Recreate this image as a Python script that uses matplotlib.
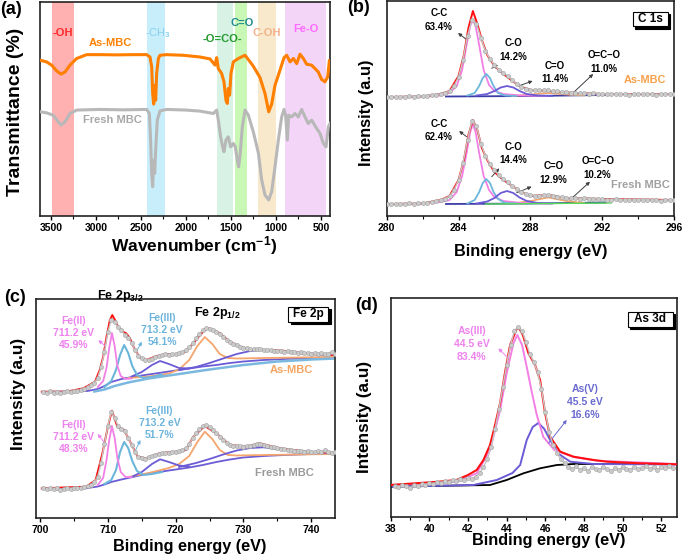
import numpy as np
import matplotlib
matplotlib.use('Agg')
import matplotlib.pyplot as plt
from matplotlib.ticker import MultipleLocator
from matplotlib.patches import Rectangle
from matplotlib.transforms import offset_copy

plt.rcParams['font.family'] = ['Liberation Sans', 'DejaVu Sans']
plt.rcParams['font.weight'] = 'bold'
plt.rcParams['axes.labelweight'] = 'bold'
plt.rcParams['mathtext.fontset'] = 'custom'
plt.rcParams['mathtext.rm'] = 'Liberation Sans:bold'
plt.rcParams['mathtext.it'] = 'Liberation Sans:bold'
plt.rcParams['mathtext.bf'] = 'Liberation Sans:bold'
plt.rcParams['mathtext.default'] = 'rm'

# ---------------- (a) FT-IR ----------------
ftir_wn_as = [3620, 3548, 3493, 3437, 3389, 3344, 3289, 3215, 3104, 2956, 2770, 2585, 2437, 2400,
              2381, 2370, 2359, 2348, 2337, 2326, 2307, 2289, 2215, 2030, 1844, 1733, 1678, 1659,
              1641, 1604, 1578, 1556, 1541, 1530, 1515, 1500, 1474, 1437, 1400, 1344, 1307, 1252,
              1178, 1122, 1081, 1048, 1011, 956, 911, 881, 844, 807, 770, 733, 696, 659, 604, 567,
              530, 493, 456, 426, 407]
ftir_t_as = [72.8, 72.0, 70.5, 67.8, 66.3, 67.3, 70.5, 73.6, 75.4, 75.4, 75.3, 75.4, 75.4, 74.3,
             69.7, 57.2, 52.3, 61.1, 54.1, 66.6, 73.6, 75.1, 75.4, 75.1, 74.3, 73.4, 70.5, 74.0,
             68.9, 66.6, 62.7, 54.1, 52.6, 59.6, 56.5, 66.6, 72.0, 73.1, 74.0, 75.1, 73.1, 70.0,
             64.7, 57.2, 48.7, 52.3, 61.1, 68.1, 74.0, 75.1, 72.0, 73.6, 71.2, 75.6, 73.6, 70.9,
             70.5, 68.9, 67.3, 63.8, 62.7, 65.0, 72.5]
ftir_wn_fresh = [3620, 3548, 3474, 3419, 3389, 3344, 3289, 3215, 2956, 2700, 2437, 2407, 2393, 2381,
                 2370, 2359, 2348, 2337, 2319, 2289, 2215, 2000, 1844, 1696, 1659, 1641, 1615, 1593,
                 1578, 1556, 1530, 1504, 1474, 1452, 1430, 1415, 1400, 1374, 1344, 1307, 1252, 1196,
                 1159, 1122, 1081, 1048, 1011, 974, 937, 911, 893, 874, 859, 826, 789, 752, 715, 678,
                 641, 604, 548, 511, 474, 444, 419, 400]
ftir_t_fresh = [48.7, 48.2, 47.1, 44.0, 42.5, 44.0, 47.9, 49.5, 49.8, 49.6, 49.8, 47.9, 35.5, 19.9,
                13.7, 26.1, 19.9, 30.8, 44.8, 49.1, 49.8, 49.5, 49.0, 47.9, 49.5, 44.8, 37.0, 32.3,
                30.0, 35.5, 37.0, 32.3, 33.9, 32.3, 26.1, 23.0, 28.0, 41.7, 49.5, 47.1, 39.3, 29.5,
                16.8, 9.8, 7.5, 11.4, 23.0, 35.5, 46.3, 49.8, 47.1, 35.5, 47.1, 46.3, 47.9, 46.3,
                49.8, 46.3, 43.2, 44.8, 40.9, 38.6, 33.9, 32.3, 41.7, 43.2]
band_labels = ['-OH', '-CH$_3$', '-O=CO-', 'C=O', 'C-OH', 'Fe-O']
band_lo = [3240, 2230, 1480, 1325, 995, 440]
band_hi = [3490, 2430, 1660, 1460, 1205, 900]

# ---------------- (b) C 1s ----------------
c1s_be = np.linspace(280, 296, 65)
c1s_as_raw = [119, 119, 119.5, 119, 119.5, 120, 119.5, 120, 120, 120.5, 121, 121.5, 122, 123, 125,
              130, 139, 156, 180, 196, 192, 178, 165, 157, 151, 146, 143, 140, 136, 132, 129, 127,
              126, 126.5, 126, 126.5, 126, 125, 125, 124, 124, 123.5, 123, 123.5, 123, 122.5, 123,
              122.5, 122, 122.5, 122, 122, 122.5, 122, 121.5, 122, 122, 122.5, 122, 122, 121.5,
              122, 122, 122, 122]
c1s_fresh_raw = [12, 12, 12.5, 12, 12.5, 13, 12.5, 13, 13, 13.5, 14, 15, 16, 17.5, 20, 26, 36, 53,
                 76, 95, 90, 72, 60, 52, 46, 41, 37, 34, 30, 27, 24, 22, 21, 20.5, 20, 21, 21, 20,
                 19.5, 19, 18.5, 18, 18, 17.5, 18, 17.5, 17, 17.5, 17, 16.5, 16.5, 17, 16.5, 16,
                 16.5, 16, 16, 16.5, 16, 16, 16, 15.5, 16, 16, 16]
c1s_fit_be = [280, 282, 283, 283.5, 284.0, 284.3, 284.55, 284.8, 285.05, 285.3, 285.6, 286.0,
              286.5, 287.0, 287.5, 288, 289, 290, 292, 296]
c1s_as_fit = [119, 119.5, 122, 125, 140, 161, 188, 205, 192, 176, 161, 150, 142, 135, 129, 126,
              125, 123.5, 122, 122]
c1s_fresh_fit = [12, 12.5, 16, 20, 36, 56, 81, 96, 86, 68, 56, 44, 36, 30, 24, 20, 21, 18, 17, 16]
cc_be = [282, 283, 283.5, 283.9, 284.2, 284.45, 284.65, 284.8, 284.95, 285.15, 285.4, 285.7,
         286.0, 286.5, 287.5, 289]
cc_as = [119.5, 120.5, 123, 130, 146, 171, 190, 196, 190, 171, 146, 131, 125, 122, 120.5, 120]
cc_fresh = [12.5, 14, 16, 24, 40, 63, 84, 92, 84, 63, 40, 26, 19, 15, 13, 12.5]
co_be = [284.5, 284.9, 285.15, 285.35, 285.55, 285.75, 285.95, 286.2, 286.6, 287.2]
co_as = [120.5, 123, 130, 138, 142, 138, 130, 123, 120.5, 120]
co_fresh = [12.5, 16, 24, 33, 37, 33, 24, 17, 13, 12.5]
cdo_be = [285.0, 285.6, 286.0, 286.35, 286.7, 287.05, 287.4, 287.8, 288.4, 289.2]
cdo_as = [120.5, 122, 125, 128.5, 130, 128.5, 125, 122, 120.5, 120]
cdo_fresh = [12.5, 14.5, 18, 23, 25, 23, 18.5, 15, 13, 12.5]
oco_be = [287, 288, 289, 290, 291]
oco_as = [120, 121.5, 123, 121.5, 120.5]
oco_fresh = [12.5, 15, 18.5, 15, 13]
c1s_bg_be = [283.3, 288, 292.2]
c1s_bg_as = [119.5, 120, 121]
c1s_bg_fresh = [12, 12.5, 13.5]

# ---------------- (c) Fe 2p ----------------
fe_be = np.linspace(700.5, 743.5, 87)
fe_as_raw = [126, 125, 127, 125.5, 126.5, 125, 126, 127, 126, 127, 127.5, 128, 129.5, 131, 133,
             135.5, 140, 151, 166, 186, 198, 196, 191, 188, 183, 180, 175, 168, 162, 160, 158, 158,
             159, 161, 162.5, 163, 164, 163.5, 164, 164.5, 165, 166, 168, 171, 175, 180, 184, 188,
             190, 189, 188, 186, 184, 181, 178, 176, 174.5, 173, 171.5, 170.5, 170, 169.5, 169,
             169.5, 169, 168.5, 168, 168.5, 167.5, 167, 167.5, 166.5, 167, 166, 166.5, 165.5, 166,
             165, 165.5, 164.5, 165, 164, 165, 164, 164.5, 166, 164]
fe_fresh_raw = [30, 29, 30.5, 29, 30, 28.5, 29.5, 30, 29, 30, 30.5, 30, 31, 32, 33.5, 36, 41, 55,
                74, 92, 106, 100, 92, 89, 87, 80, 73, 66, 61, 60, 59.5, 61, 62, 63.5, 64.5, 65,
                65.5, 65, 66, 66.5, 67, 68, 70, 74, 80, 85, 89, 92, 93, 91, 88, 85, 81, 78, 75,
                73.5, 72.5, 72, 72, 71.5, 72, 72.5, 73, 74, 74.5, 73.5, 72.5, 71.5, 71, 70, 69.5,
                69, 68, 68.5, 67.5, 67, 67, 66.5, 67, 66, 66.5, 67, 66, 68, 66.5, 65.5, 66]
fe_as_fit_be = [700.25, 703.9, 706.4, 708.1, 708.8, 709.3, 709.8, 710.3, 710.65, 711.05, 711.5,
                712.3, 712.7, 713.25, 714.0, 714.7, 715.7, 717.2, 718.7, 720.1, 721.4, 722.6,
                723.6, 724.3, 724.8, 725.5, 726.5, 728.0, 729.5, 731.4, 733.4, 735.8, 738.3,
                740.7, 743.5]
fe_as_fit = [126.3, 126.3, 129.7, 136.3, 148, 161, 181, 198, 203, 198, 191, 186, 184.7, 179.7,
             168, 160.7, 158, 162, 164, 164, 166.3, 174.7, 183, 188, 189.7, 188, 184.7, 176.3,
             171.3, 168, 168, 167.3, 165.3, 164, 163]
fe_fresh_fit_be = [700.25, 706.8, 708.2, 709.2, 710.0, 710.6, 711.4, 712.4, 713.4, 714.4, 715.6,
                   717.6, 720.0, 721.5, 722.6, 724.3, 726.0, 728.0, 730.4, 732.4, 735.3, 739.3,
                   743.5]
fe_fresh_fit = [29.7, 31.3, 38, 64.7, 91.3, 107.3, 91.3, 88, 74.7, 61.3, 59.7, 64.7, 66.3, 68,
                81.3, 92, 84.7, 73, 71.3, 74.7, 69.7, 66.3, 65.3]
fe2_be = [708.5, 709.3, 709.8, 710.2, 710.6, 711.0, 711.4, 711.9, 712.6, 713.5]
fe2_as = [131, 137, 150, 170, 185, 172, 152, 142, 139, 139.5]
fe2_fresh = [33, 40, 58, 78, 92, 80, 60, 46, 41, 41]
fe3_be = [709.5, 710.5, 711.2, 711.8, 712.4, 713.0, 713.6, 714.3, 715.2, 716.5, 718]
fe3_as = [131, 137, 148, 163, 173, 165, 152, 143, 140, 141, 143.5]
fe3_fresh = [34, 38, 48, 66, 76, 70, 57, 47, 43, 44, 46]
sat1_be = [713.5, 715, 716.5, 717.7, 719, 720.5, 722]
sat1_as = [141.5, 146, 153, 157, 154, 150, 149.5]
sat1_fresh = [41, 46, 54, 58.7, 56, 52.5, 51.5]
sat2_be = [720.5, 723, 725, 727, 729, 731, 732.9, 735, 738, 741, 743.5]
sat2_as = [148, 151, 155, 159.5, 164, 167, 168, 167, 165, 163.5, 163]
sat2_fresh = [51, 55, 59, 63.5, 67.5, 70, 70.7, 69, 67, 65.5, 65]
fe12_be = [713, 716, 719, 720.5, 722, 723.2, 724.3, 725.4, 726.5, 727.7, 729, 733, 738, 743.5]
fe12_as = [140, 141.5, 144.5, 148.5, 158, 172, 181, 174, 164, 160, 159.5, 160, 160.5, 161]
fe12_fresh = [41, 45, 50, 54, 62, 76, 86.3, 79, 68, 63, 62.5, 63, 63.5, 64]
fe_bg_be = [700.3, 707, 708.5, 709.5, 710.5, 712, 714, 716, 718, 720, 722, 724, 726, 728, 730,
            733, 736, 740, 743.5]
fe_bg_as = [126, 127, 129, 132, 136, 139, 141.5, 143.5, 145.5, 147.5, 149.5, 151.5, 153, 155,
            156.5, 158, 159, 160, 160.5]
fe_bg_fresh = [29.5, 30, 31.5, 33.5, 36, 38.5, 41.5, 44.5, 46.5, 48.5, 50.5, 53, 56, 58.5, 60.5,
               62, 63, 64, 64.5]
fe_bg2_be = [708, 709.5, 711, 713, 716, 720, 725, 730, 735, 740, 743.5]
fe_bg2_as = [126.5, 128.5, 132, 135.5, 139.5, 143.5, 148.5, 153, 156.5, 158.5, 159.5]

# ---------------- (d) As 3d ----------------
as_be = np.linspace(38.2, 52.6, 73)
as_raw = [31, 30, 32, 31, 29, 32, 31, 33, 32, 34, 33, 35, 34, 36, 35, 37, 36, 38, 37, 39, 38, 40,
          44, 50, 58, 70, 88, 108, 130, 152, 172, 186, 190, 186, 175, 163, 155, 145, 128, 105, 85,
          72, 64, 58, 54, 50, 48, 51, 47, 49, 46, 50, 48, 47, 50, 48, 46, 49, 47, 50, 48, 47, 50,
          48, 49, 51, 48, 50, 47, 50, 49, 51, 49]
as_fit_be = [38.0, 40.5, 41.4, 42.0, 42.45, 42.8, 43.14, 43.4, 43.66, 43.92, 44.18, 44.35, 44.5,
             44.65, 44.84, 45.13, 45.47, 45.73, 45.99, 46.25, 46.77, 47.46, 48.5, 49.2, 50.9, 52.8]
as_fit = [32, 35.3, 37, 42, 47, 57, 72, 92, 113.7, 145, 172, 180, 187.5, 188.7, 182, 163.7, 152,
          137, 103.7, 80.3, 65.3, 60.3, 57, 55.3, 53.7, 52.7]
as3_be = [38.0, 41.42, 42.45, 43.14, 43.66, 44.0, 44.35, 44.55, 44.8, 45.04, 45.3, 45.56, 45.9,
          46.47, 47.46, 48.67, 52.8]
as3 = [32, 35.3, 43.7, 67, 107, 143.7, 173.7, 182, 172, 150, 125, 102, 80, 67, 60, 56.3, 53]
as5_be = [38.0, 42.28, 43.49, 44.3, 44.7, 45.04, 45.35, 45.64, 45.95, 46.25, 46.7, 47.29, 48.5,
          52.8]
as5 = [30.3, 32, 37, 44, 52, 77, 90, 94, 88, 77, 63, 55.3, 53, 52.5]
as_bg_be = [38.0, 43.14, 44.0, 44.87, 45.73, 46.6, 47.46, 52.8]
as_bg = [30.3, 32, 37, 43.7, 48.7, 52, 53, 53]

PINK = '#f27fe6'
CYAN = '#6cb6dc'
PURPLE = '#6b5bd6'
ORANGE = '#f5a56e'
RED = '#ff1010'
NAVY = '#3c3ca8'


def style(ax, xlim, ylim, major, minor):
    ax.set_xlim(*xlim)
    ax.set_ylim(*ylim)
    ax.xaxis.set_major_locator(MultipleLocator(major))
    ax.xaxis.set_minor_locator(MultipleLocator(minor))
    ax.set_yticks([])
    ax.tick_params(axis='x', which='major', direction='out', length=3, width=1,
                   labelsize=7.5, pad=2)
    ax.tick_params(axis='x', which='minor', direction='out', length=1.8, width=0.8)
    for s in ax.spines.values():
        s.set_linewidth(1.2)
        s.set_color('#222222')


def raw(ax, x, y):
    ax.plot(x, y, color='#c6c6c6', lw=1.0, marker='o', ms=3, mfc='#cbcbcb', mec='#a2a2a2',
            mew=0.4, zorder=4)


def arrow(ax, head, tail, color):
    ax.annotate('', xy=head, xytext=tail,
                arrowprops=dict(arrowstyle='-|>', color=color, lw=0.7, mutation_scale=5,
                                shrinkA=0, shrinkB=0))


def box_label(ax, cx, cy, w, h, text):
    # boxed label with a drop shadow to the lower right
    shadow = offset_copy(ax.transAxes, fig=ax.figure, x=2.5, y=-2.5, units='dots')
    ax.add_patch(Rectangle((cx - w / 2, cy - h / 2), w, h, transform=shadow,
                           fc='black', ec='black', lw=0.8, zorder=6))
    ax.add_patch(Rectangle((cx - w / 2, cy - h / 2), w, h, transform=ax.transAxes,
                           fc='white', ec='black', lw=0.8, zorder=7))
    ax.text(cx, cy, text, transform=ax.transAxes, ha='center', va='center', fontsize=8.5,
            zorder=8)


fig = plt.figure(figsize=(6.85, 5.6), dpi=100)


def px_axes(l, t, r, b):
    return fig.add_axes([l / 685, 1 - b / 560, (r - l) / 685, (b - t) / 560])


ax_a = px_axes(40, 2, 330, 216)
ax_b = px_axes(386.7, 1, 674, 216)
ax_c = px_axes(36, 299, 335, 518)
ax_d = px_axes(390.7, 298, 676.7, 517)

# ---- (a)
band_colors = ['#ffb0b0', '#c9eefb', '#d8f3e6', '#c9f7b5', '#f8e9cc', '#f3d5f8']
band_text = ['#ff2a2a', '#86d0ee', '#22992a', '#1e8b8b', '#f4b28a', '#ff6bff']
band_pos = [(3363, 85.7), (2307, 85.7), (1593, 82.9), (1381, 90.2), (1104, 85.7), (667, 87.2)]
for lab, lo, hi, fc, tc, pos in zip(band_labels, band_lo, band_hi, band_colors, band_text, band_pos):
    ax_a.axvspan(lo, hi, color=fc, lw=0, zorder=0)
    ax_a.text(pos[0], pos[1], lab, color=tc, ha='center', va='center', fontsize=8,
              fontweight='normal' if 'CH' in lab else 'bold')
ax_a.plot(ftir_wn_as, ftir_t_as, color='#ff7f00', lw=2.2, zorder=3)
ax_a.plot(ftir_wn_fresh, ftir_t_fresh, color='#b8b8b8', lw=2.2, zorder=3)
ax_a.text(2844, 80.9, 'As-MBC', color='#ff8000', ha='center', va='center', fontsize=8)
ax_a.text(2815, 44.8, 'Fresh MBC', color='#a8a8a8', ha='center', va='center', fontsize=8)
style(ax_a, (3622, 400), (0, 100), 500, 250)
ax_a.set_xlabel('Wavenumber (cm$^{-1}$)', fontsize=12.5, va='center')
ax_a.xaxis.set_label_coords(0.53, -0.14)
ax_a.set_ylabel('Transmittance (%)', fontsize=14, va='center')
ax_a.yaxis.set_label_coords(-0.086, 0.486)

# ---- (b)
for raw_y, fit_y, cc, co, cdo, oco, bg in [
        (c1s_as_raw, c1s_as_fit, cc_as, co_as, cdo_as, oco_as, c1s_bg_as),
        (c1s_fresh_raw, c1s_fresh_fit, cc_fresh, co_fresh, cdo_fresh, oco_fresh, c1s_bg_fresh)]:
    ax_b.plot(c1s_bg_be, bg, color=NAVY, lw=1.3, zorder=2)
    ax_b.plot(oco_be, oco, color=ORANGE, lw=1.2, zorder=2)
    ax_b.plot(cc_be, cc, color=PINK, lw=1.3, zorder=2)
    ax_b.plot(co_be, co, color=CYAN, lw=1.3, zorder=2)
    ax_b.plot(cdo_be, cdo, color=PURPLE, lw=1.3, zorder=2)
    ax_b.plot(c1s_fit_be, fit_y, color=RED, lw=1.4, zorder=3)
    raw(ax_b, c1s_be, raw_y)
ax_b.plot([285.5, 292.5], [12, 13], color='#55dd55', lw=1.0, zorder=2)

for txt, pos in [('C-C\n63.4%', (282.9, 196)), ('C-O\n14.2%', (287.07, 165.7)),
                 ('C=O\n11.4%', (289.37, 143.5)), ('O=C–O\n11.0%', (292.1, 153.8)),
                 ('C-C\n62.4%', (282.9, 85.3)), ('C-O\n14.4%', (287.07, 62.7)),
                 ('C=O\n12.9%', (289.28, 43.2)), ('O=C–O\n10.2%', (291.75, 47.7))]:
    ax_b.text(pos[0], pos[1], txt, ha='center', va='center', fontsize=7, linespacing=1.45,
              zorder=6)
for head, tail in [((283.97, 183), (284.41, 177)), ((286.2, 151), (285.85, 147.7)),
                   ((288.13, 135), (287.33, 130)), ((291.5, 142), (290.39, 123.3)),
                   ((284.03, 85), (284.45, 79.3)), ((286.27, 47.7), (285.85, 39.3)),
                   ((288.07, 29.3), (287.24, 23.3)), ((291.32, 34.3), (290.2, 16))]:
    arrow(ax_b, head, tail, '#404040')
ax_b.text(294.38, 136, 'As-MBC', color='#f7a04a', ha='center', va='center', fontsize=7.8, zorder=6)
ax_b.text(294.1, 31, 'Fresh MBC', color='#a0a0a0', ha='center', va='center', fontsize=8, zorder=6)
box_label(ax_b, 0.918, 0.916, 0.122, 0.0665, 'C 1s')
style(ax_b, (280, 296), (0, 215), 4, 2)
ax_b.set_xlabel('Binding energy (eV)', fontsize=11.7, va='center')
ax_b.xaxis.set_label_coords(0.501, -0.167)
ax_b.set_ylabel('Intensity (a.u)', fontsize=11.8, va='center')
ax_b.yaxis.set_label_coords(-0.07, 0.479)

# ---- (c)
for raw_y, fit_be, fit_y, f2, f3, s1, s2, f12, bg in [
        (fe_as_raw, fe_as_fit_be, fe_as_fit, fe2_as, fe3_as, sat1_as, sat2_as, fe12_as, fe_bg_as),
        (fe_fresh_raw, fe_fresh_fit_be, fe_fresh_fit, fe2_fresh, fe3_fresh, sat1_fresh,
         sat2_fresh, fe12_fresh, fe_bg_fresh)]:
    ax_c.plot(fe_bg_be, bg, color=PURPLE, lw=1.3, zorder=2)
    ax_c.plot(fe12_be, f12, color=ORANGE, lw=1.3, zorder=2)
    ax_c.plot(sat1_be, s1, color=PURPLE, lw=1.3, zorder=2)
    ax_c.plot(sat2_be, s2, color=PURPLE, lw=1.3, zorder=2)
    ax_c.plot(fe3_be, f3, color=CYAN, lw=1.5, zorder=2)
    ax_c.plot(fe2_be, f2, color=PINK, lw=1.3, zorder=2)
    ax_c.plot(fit_be, fit_y, color=RED, lw=1.4, zorder=3)
    raw(ax_c, fe_be, raw_y)
ax_c.plot(fe_bg2_be, fe_bg2_as, color='#7ab8e0', lw=1.8, zorder=2)

ax_c.text(704.9, 184.7, 'Fe(II)\n711.2 eV\n45.9%', color='#ee82ee', ha='center', va='center',
          fontsize=7.5, linespacing=1.25, zorder=6)
ax_c.text(718.0, 188.2, 'Fe(III)\n713.2 eV\n54.1%', color='#6cb4dc', ha='center', va='center',
          fontsize=7.5, linespacing=1.25, zorder=6)
ax_c.text(704.9, 80.7, 'Fe(II)\n711.2 eV\n48.3%', color='#ee82ee', ha='center', va='center',
          fontsize=7.5, linespacing=1.25, zorder=6)
ax_c.text(717.6, 95.3, 'Fe(III)\n713.2 eV\n51.7%', color='#6cb4dc', ha='center', va='center',
          fontsize=7.5, linespacing=1.25, zorder=6)
ax_c.text(711.8, 222, 'Fe 2p$_{3/2}$', ha='center', va='center', fontsize=9, clip_on=False,
          zorder=6)
ax_c.text(726.1, 204.7, 'Fe 2p$_{1/2}$', ha='center', va='center', fontsize=9, zorder=6)
ax_c.text(737.1, 148, 'As-MBC', color='#f4a460', ha='center', va='center', fontsize=8, zorder=6)
ax_c.text(736.1, 45.3, 'Fresh MBC', color='#9a9a9a', ha='center', va='center', fontsize=8,
          zorder=6)
arrow(ax_c, (708.6, 178), (709.7, 171.3), '#ee82ee')
arrow(ax_c, (715.0, 176.3), (714.2, 166.3), '#6cb4dc')
arrow(ax_c, (708.5, 84), (709.6, 74.7), '#ee82ee')
arrow(ax_c, (714.8, 78), (714.1, 68), '#6cb4dc')
box_label(ax_c, 0.91, 0.931, 0.134, 0.0685, 'Fe 2p')
style(ax_c, (699.4, 743.5), (0, 219), 10, 5)
ax_c.set_xlabel('Binding energy (eV)', fontsize=11.7, va='center')
ax_c.xaxis.set_label_coords(0.515, -0.131)
ax_c.set_ylabel('Intensity (a.u)', fontsize=12.4, va='center')
ax_c.yaxis.set_label_coords(-0.057, 0.566)

# ---- (d)
ax_d.plot(as_bg_be, as_bg, color='black', lw=1.3, zorder=2)
ax_d.plot(as5_be, as5, color=PURPLE, lw=1.4, zorder=2)
ax_d.plot(as3_be, as3, color=PINK, lw=1.4, zorder=2)
ax_d.plot(as_fit_be, as_fit, color=RED, lw=1.5, zorder=3)
raw(ax_d, as_be, as_raw)
ax_d.text(42.19, 173.1, 'As(III)\n44.5 eV\n83.4%', color='#ee82ee', ha='center', va='center',
          fontsize=7.5, linespacing=1.35, zorder=6)
ax_d.text(48.06, 114.8, 'As(V)\n45.5 eV\n16.6%', color='#6a6ad0', ha='center', va='center',
          fontsize=7.5, linespacing=1.35, zorder=6)
arrow(ax_d, (43.57, 168.7), (44.09, 158.7), '#ee82ee')
arrow(ax_d, (47.11, 97), (46.16, 73.7), '#6a6ad0')
box_label(ax_d, 0.908, 0.903, 0.157, 0.0685, 'As 3d')
style(ax_d, (38, 52.8), (0, 219), 2, 1)
ax_d.set_xlabel('Binding energy (eV)', fontsize=11.7, va='center')
ax_d.xaxis.set_label_coords(0.551, -0.108)
ax_d.set_ylabel('Intensity (a.u)', fontsize=12.4, va='center')
ax_d.yaxis.set_label_coords(-0.09, 0.457)

for lab, x, y in [('(a)', 11, 10), ('(b)', 359, 8), ('(c)', 15, 297), ('(d)', 367, 306)]:
    fig.text(x / 685, 1 - y / 560, lab, ha='center', va='center', fontsize=13)

fig.savefig('out.png', dpi=100)
